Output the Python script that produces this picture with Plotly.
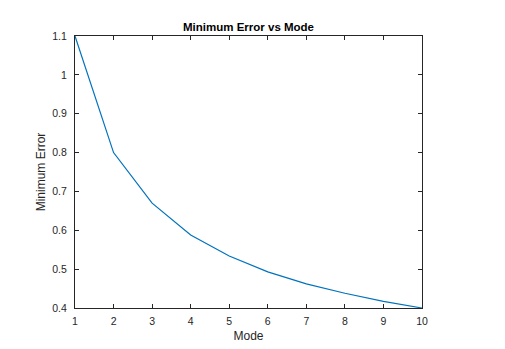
import plotly.graph_objects as go

# mode number vs minimum error
modes = [1, 2, 3, 4, 5, 6, 7, 8, 9, 10]
min_error = [1.1, 0.80, 0.67, 0.588, 0.534, 0.493, 0.462, 0.438, 0.417, 0.40]

x_ticks = [1, 2, 3, 4, 5, 6, 7, 8, 9, 10]
y_ticks = [0.4, 0.5, 0.6, 0.7, 0.8, 0.9, 1.0, 1.1]
y_labels = ['0.4', '0.5', '0.6', '0.7', '0.8', '0.9', '1', '1.1']

axis_col = '#262626'

fig = go.Figure()
fig.add_trace(go.Scatter(x=modes, y=min_error, mode='lines',
                         line=dict(color='#0072BD', width=1.2)))

axis_style = dict(showline=True, linecolor=axis_col, linewidth=1, mirror='ticks',
                  ticks='inside', ticklen=4, tickcolor=axis_col, tickwidth=1,
                  showgrid=False, zeroline=False, automargin=False,
                  tickfont=dict(size=10.5, color=axis_col))

fig.update_xaxes(range=[1, 10], tickvals=x_ticks, **axis_style, ticklabelstandoff=3,
                 title=dict(text='Mode', font=dict(size=12, color=axis_col), standoff=6))
fig.update_yaxes(range=[0.4, 1.1], tickvals=y_ticks, ticktext=y_labels, **axis_style,
                 ticklabelstandoff=5,
                 title=dict(text='Minimum Error', font=dict(size=12, color=axis_col), standoff=4))

# page body has an 8px margin, so the figure is a bit smaller than the window
W, H = 497, 341
fig.update_layout(
    width=W, height=H,
    margin=dict(l=67, r=83, t=28, b=41),
    paper_bgcolor='white', plot_bgcolor='white',
    font=dict(family='Liberation Sans, Arial, sans-serif'),
    showlegend=False,
    title=dict(text='<b>Minimum Error vs Mode</b>', x=(67 + W - 83) / 2 / W, xanchor='center',
               y=1 - 19 / H, yanchor='middle', automargin=False,
               font=dict(size=11.5, color='black')),
)

fig.write_html("out.html")
